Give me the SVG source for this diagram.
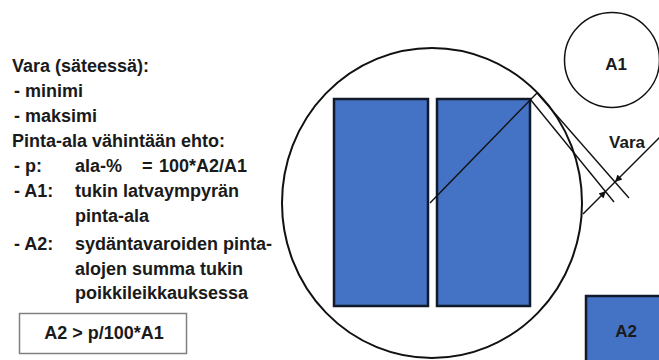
<svg xmlns="http://www.w3.org/2000/svg" width="659" height="360" viewBox="0 0 659 360">
<defs>
<style>
.t{font-family:"Liberation Sans",Arial,sans-serif;font-weight:bold;font-size:18px;fill:#1a1a1a}
.lbl{font-family:"Liberation Sans",Arial,sans-serif;font-weight:bold;font-size:17px;fill:#1a1a1a}
.blue{fill:#4472C4;stroke:#111a2a;stroke-width:2.5}
.ln{stroke:#111;stroke-width:1.4;fill:none}
</style>
<marker id="ah" viewBox="0 0 10 10" refX="10" refY="5" markerWidth="9" markerHeight="7" markerUnits="userSpaceOnUse" orient="auto">
<path d="M0,0 L10,5 L0,10 z" fill="#111"/>
</marker>
</defs>
<rect width="659" height="360" fill="#fff"/>

<g id="text-block">
<text class="t" x="12" y="72">Vara (säteessä):</text>
<text class="t" x="14" y="97">- minimi</text>
<text class="t" x="14" y="122">- maksimi</text>
<text class="t" x="12" y="147">Pinta-ala vähintään ehto:</text>
<text class="t" y="172"><tspan x="14">- p:</tspan><tspan x="75">ala-%</tspan><tspan x="142">=</tspan><tspan x="159">100*A2/A1</tspan></text>
<text class="t" y="197"><tspan x="14">- A1:</tspan><tspan x="75">tukin latvaympyrän</tspan></text>
<text class="t" x="75" y="222">pinta-ala</text>
<text class="t" y="250"><tspan x="14">- A2:</tspan><tspan x="75">sydäntavaroiden pinta-</tspan></text>
<text class="t" x="75" y="274.5">alojen summa tukin</text>
<text class="t" x="75" y="299">poikkileikkauksessa</text>
</g>

<g id="formula">
<rect x="19.5" y="313.5" width="167" height="40" fill="#fff" stroke="#808080" stroke-width="1.5"/>
<text class="t" x="104" y="339" text-anchor="middle">A2 &gt; p/100*A1</text>
</g>

<g id="log">
<ellipse cx="432" cy="203" rx="150" ry="155" fill="none" stroke="#111" stroke-width="2"/>
</g>

<g id="board-left">
<rect class="blue" x="334" y="99" width="94" height="207"/>
</g>
<g id="board-right">
<rect class="blue" x="437" y="99" width="93" height="207"/>
</g>

<g id="A1">
<circle cx="612" cy="60" r="47.5" fill="none" stroke="#111" stroke-width="1.5"/>
<text class="lbl" x="616" y="70" text-anchor="middle">A1</text>
</g>

<g id="A2">
<rect x="586" y="296" width="80" height="80" fill="#4472C4" stroke="#111a2a" stroke-width="2.5"/>
<text class="lbl" x="626" y="337" text-anchor="middle">A2</text>
</g>

<g id="vara-label">
<text class="lbl" x="627" y="148" text-anchor="middle">Vara</text>
</g>

<g id="connectors">
<line class="ln" x1="430" y1="203" x2="537" y2="93"/>
<line class="ln" x1="530" y1="99" x2="614" y2="202"/>
<line class="ln" x1="537" y1="93" x2="629" y2="198"/>
<line class="ln" x1="583" y1="214" x2="606" y2="191" marker-end="url(#ah)"/>
<line class="ln" x1="606" y1="191" x2="615" y2="182"/>
<line class="ln" x1="660" y1="137" x2="615" y2="182" marker-end="url(#ah)"/>
</g>
</svg>
